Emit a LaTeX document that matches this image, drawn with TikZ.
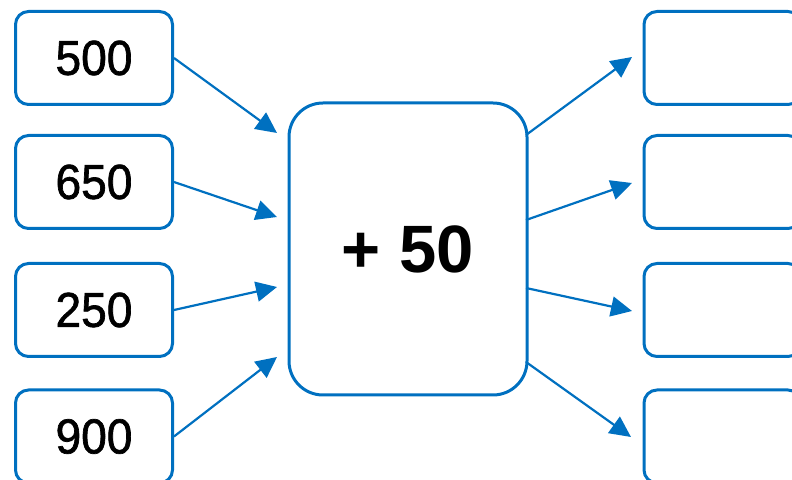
\documentclass[tikz,border=0pt]{standalone}
\usepackage{fontspec}
\setmainfont{Liberation Sans}
\newfontfamily\numfont[FakeBold=1.4,FakeStretch=0.94]{Liberation Sans}
\usetikzlibrary{arrows.meta}
\definecolor{lineblue}{RGB}{0,112,192}
\tikzset{
  numbox/.style={draw=lineblue, line width=1.5pt, rounded corners=6.5pt,
    minimum width=78.5pt, minimum height=46.5pt, inner sep=0pt,
    font=\numfont\fontsize{24.5}{24.5}\selectfont},
  opbox/.style={draw=lineblue, line width=1.5pt, rounded corners=17pt,
    minimum width=119pt, minimum height=146pt, inner sep=0pt,
    font=\bfseries\fontsize{33.5}{33.5}\selectfont},
  arr/.style={draw=lineblue, line width=1.1pt,
    -{Triangle[length=10.5pt,width=10pt]}},
}
\begin{document}
\begin{tikzpicture}[x=0.5pt,y=-0.5pt]
\useasboundingbox (0,0) rectangle (792,480);
\clip (0,0) rectangle (792,480);

% input boxes
\node[numbox] (in1) at (94,58)  {500};
\node[numbox] (in2) at (94,182) {650};
\node[numbox] (in3) at (94,310) {250};
\node[numbox] (in4) at (94,436.5) {900};

% operation box
\node[opbox] (op) at (408,249) {+ 50};

% empty answer boxes
\node[numbox] (out1) at (722.5,58)  {};
\node[numbox] (out2) at (722.5,182) {};
\node[numbox] (out3) at (722.5,310) {};
\node[numbox] (out4) at (722.5,436.5) {};

% arrow ends just short of the boxes
\coordinate (l1) at (277,133);
\coordinate (l2) at (277,217);
\coordinate (l3) at (277,287);
\coordinate (l4) at (277,357);
\coordinate (r1) at (526,135);
\coordinate (r2) at (526,220);
\coordinate (r3) at (526,288);
\coordinate (r4) at (526,362);
\coordinate (e1) at (632,57);
\coordinate (e2) at (632,183);
\coordinate (e3) at (632,311);
\coordinate (e4) at (631,437);

\draw[arr] (in1.east) -- (l1);
\draw[arr] (in2.east) -- (l2);
\draw[arr] (in3.east) -- (l3);
\draw[arr] (in4.east) -- (l4);

\draw[arr] (r1) -- (e1);
\draw[arr] (r2) -- (e2);
\draw[arr] (r3) -- (e3);
\draw[arr] (r4) -- (e4);
\end{tikzpicture}
\end{document}
